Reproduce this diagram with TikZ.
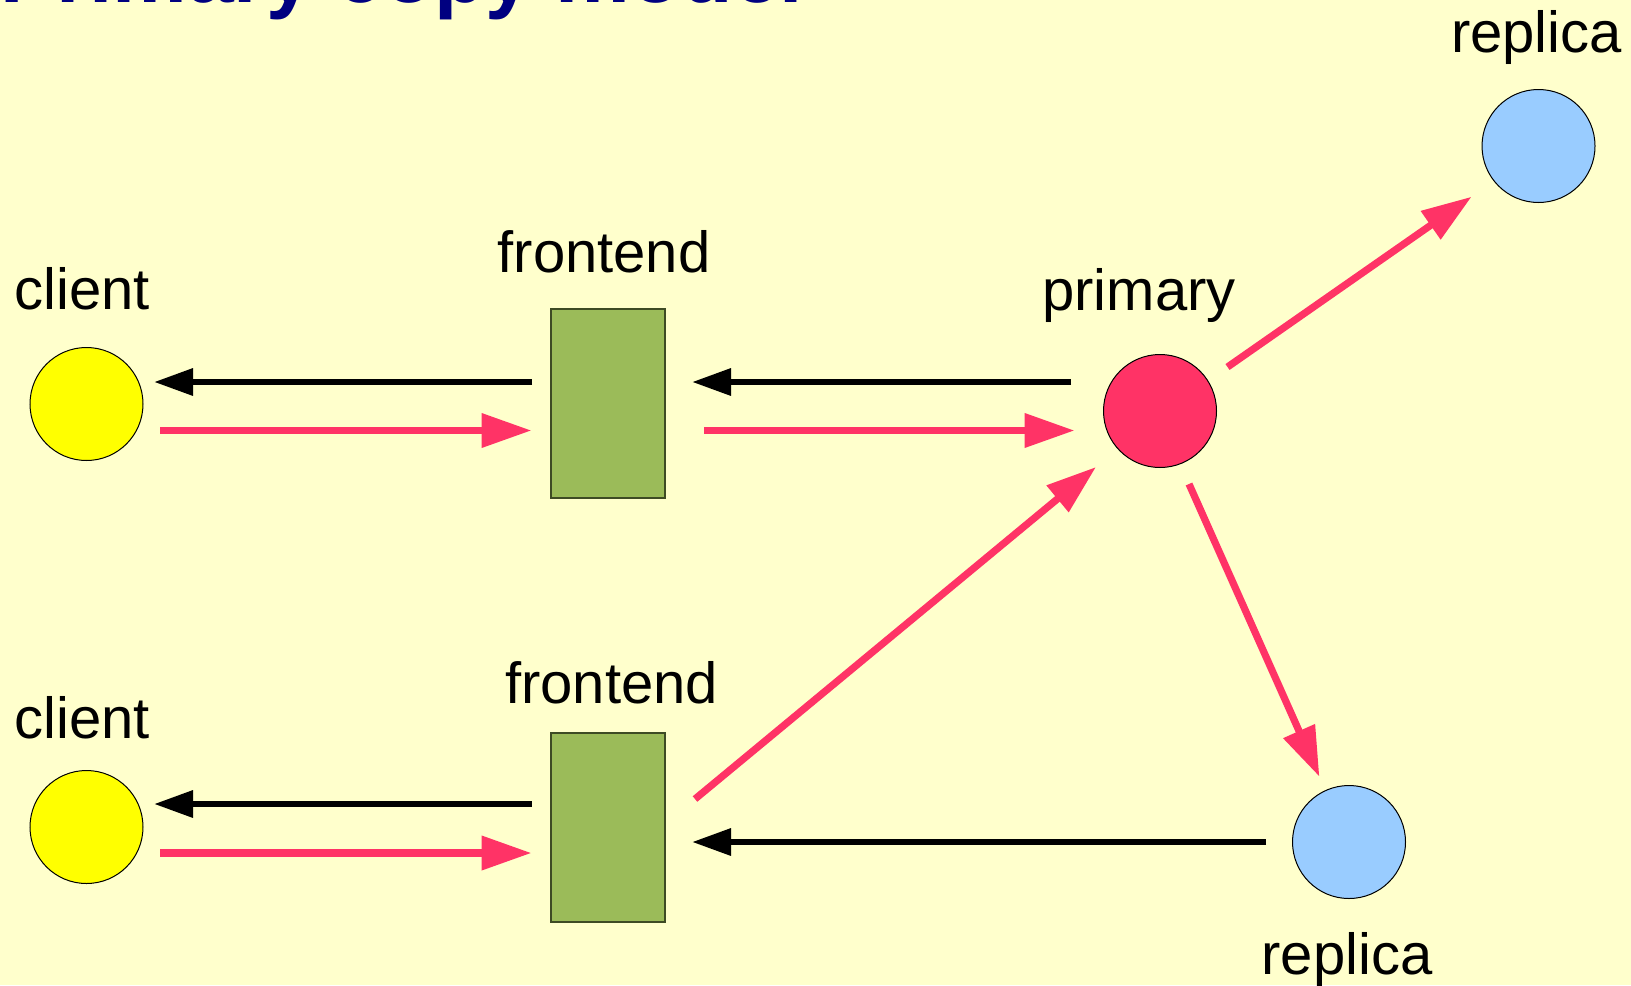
\documentclass[tikz,border=0pt]{standalone}
\usepackage{fontspec}
\setmainfont{Liberation Sans}
\usetikzlibrary{arrows.meta}
\definecolor{bgc}{HTML}{FFFFCC}
\definecolor{pinkc}{HTML}{FF3366}
\definecolor{greenc}{HTML}{9BBB59}
\definecolor{bluec}{HTML}{99CCFF}
\definecolor{yellowc}{HTML}{FFFF00}
\definecolor{navyc}{HTML}{000080}
\tikzset{
  blob/.style={circle, draw=black, line width=0.5pt, minimum size=56.5pt, inner sep=0pt},
  client/.style={blob, fill=yellowc},
  primarynode/.style={blob, fill=pinkc},
  replicanode/.style={blob, fill=bluec},
  frontbox/.style={rectangle, draw=black!60!greenc, line width=0.6pt, fill=greenc, minimum width=57pt, minimum height=94.5pt, inner sep=0pt},
  lbl/.style={anchor=base, inner sep=0pt, font=\fontsize{29}{34}\selectfont},
  blackarrow/.style={draw=black, line width=3.2pt, -{Triangle[length=19.5pt, width=13pt]}},
  pinkarrow/.style={draw=pinkc, line width=3.6pt, -{Triangle[length=25pt, width=16.5pt]}},
}
\begin{document}
\begin{tikzpicture}[x=0.5pt, y=-0.5pt]
\useasboundingbox (0,0) rectangle (1631,985);
\clip (0,0) rectangle (1631,985);
\fill[bgc] (0,0) rectangle (1631,985);
% title
\node[anchor=base west, inner sep=0pt, text=navyc, font=\bfseries\fontsize{42}{50}\selectfont] (title) at (0,3) {Primary copy model};
% nodes
\node[client] (c1) at (86.5,404) {};
\node[client] (c2) at (86.5,827) {};
\node[frontbox] (f1) at (608,403.5) {};
\node[frontbox] (f2) at (608,827.5) {};
\node[primarynode] (pr) at (1160,411) {};
\node[replicanode] (r1) at (1538.5,146) {};
\node[replicanode] (r2) at (1349,842) {};
% labels
\node[lbl] (lc1) at (82,309) {client};
\node[lbl] (lc2) at (82,738.5) {client};
\node[lbl] (lf1) at (604,272.5) {frontend};
\node[lbl] (lf2) at (611.5,703) {frontend};
\node[lbl] (lpr) at (1139,310) {primary};
\node[lbl] (lr1) at (1536.5,52) {replica};
\node[lbl] (lr2) at (1347,974) {replica};
% connector end points
\coordinate (k1s) at (532,382);   \coordinate (k1e) at (154,382);
\coordinate (p1s) at (160,430.5); \coordinate (p1e) at (531.5,430.5);
\coordinate (k2s) at (1071,382);  \coordinate (k2e) at (692,382);
\coordinate (p2s) at (704,430.5); \coordinate (p2e) at (1074.5,430.5);
\coordinate (k3s) at (531.5,804); \coordinate (k3e) at (154,804);
\coordinate (p3s) at (160,853);   \coordinate (p3e) at (531.5,853);
\coordinate (k4s) at (1266,842);  \coordinate (k4e) at (692,842);
\coordinate (p4s) at (695,799);   \coordinate (p4e) at (1096,467);
\coordinate (p5s) at (1227.5,367); \coordinate (p5e) at (1471.6,196.7);
\coordinate (p6s) at (1189,484);  \coordinate (p6e) at (1319.4,776.7);
% connectors
\draw[blackarrow] (k1s) -- (k1e);
\draw[pinkarrow] (p1s) -- (p1e);
\draw[blackarrow] (k2s) -- (k2e);
\draw[pinkarrow] (p2s) -- (p2e);
\draw[blackarrow] (k3s) -- (k3e);
\draw[pinkarrow] (p3s) -- (p3e);
\draw[blackarrow] (k4s) -- (k4e);
\draw[pinkarrow] (p4s) -- (p4e);
\draw[pinkarrow] (p5s) -- (p5e);
\draw[pinkarrow] (p6s) -- (p6e);
\end{tikzpicture}
\end{document}
